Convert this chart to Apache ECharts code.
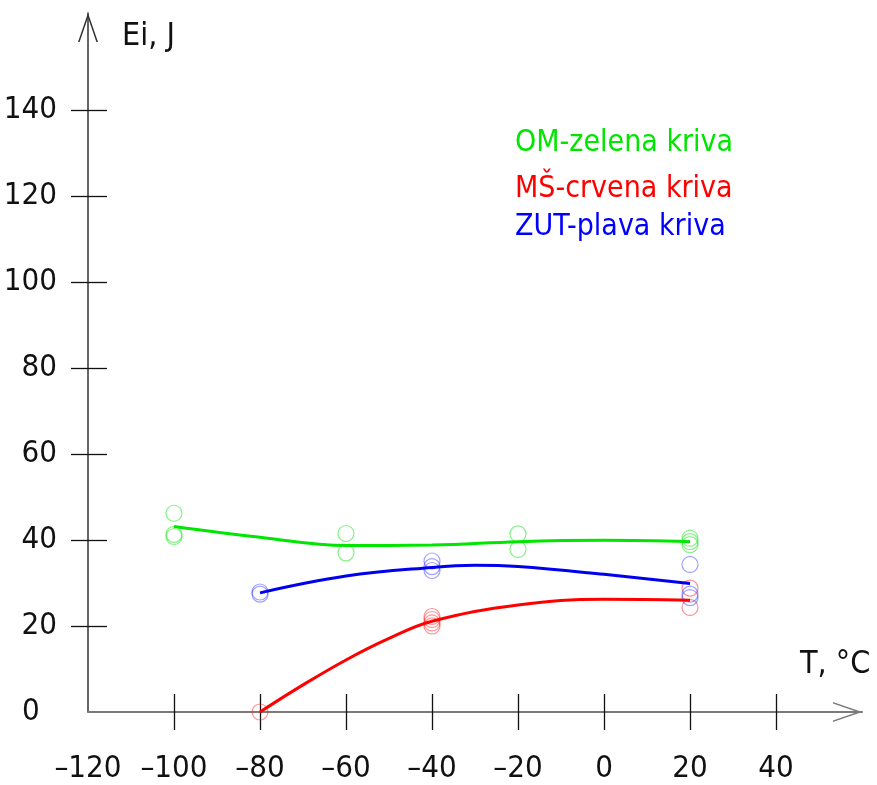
<!DOCTYPE html>
<html>
<head>
<meta charset="utf-8">
<script src="https://cdn.jsdelivr.net/npm/echarts@6/dist/echarts.min.js"></script>
<style>
html,body{margin:0;padding:0;background:#fff;}
#chart{width:877px;height:785px;}
</style>
</head>
<body>
<div id="chart"></div>
<script>
// ---- data ----
var seriesNames = ['OM-zelena kriva', 'MŠ-crvena kriva', 'ZUT-plava kriva'];
var xTickLabels = [-120, -100, -80, -60, -40, -20, 0, 20, 40];
var xTicks = [-100, -80, -60, -40, -20, 0, 20, 40];
var yTickLabels = [0, 20, 40, 60, 80, 100, 120, 140];
var yTicks = [20, 40, 60, 80, 100, 120, 140];

// measured points (hollow circles)
var omPoints = [[-100, 46.2], [-100, 41.3], [-100, 40.8], [-60, 41.5], [-60, 37.0], [-20, 41.4], [-20, 37.8], [20, 40.4], [20, 39.6], [20, 38.9]];
var msPoints = [[-80, 0], [-40, 22.2], [-40, 21.5], [-40, 20.7], [-40, 20.0], [20, 28.8], [20, 24.3]];
var zutPoints = [[-80, 27.9], [-80, 27.4], [-40, 35.1], [-40, 33.8], [-40, 32.9], [20, 34.3], [20, 27.4], [20, 26.6]];

// fitted curves
var omCurve = [[-100, 43.1], [-80, 40.6], [-60, 38.7], [-40, 38.8], [-20, 39.6], [0, 39.9], [20, 39.6]];
var msCurve = [[-80, 0], [-70, 6.3], [-60, 12.1], [-50, 17.1], [-40, 21.1], [-20, 24.9], [0, 26.2], [20, 26.0]];
var zutCurve = [[-80, 27.7], [-60, 31.6], [-40, 33.6], [-30, 34.1], [-20, 33.8], [0, 32.0], [20, 29.9]];

// ---- styles ----
var numFont = "'DejaVu Sans Condensed', 'DejaVu Sans', sans-serif";
var txtFont = "'DejaVu Sans Condensed', 'DejaVu Sans', sans-serif";
var arrowPath = 'path://M10 0 L20 29 L18.4 29 L10 4.6 L1.6 29 L0 29 Z';

function fmtNum(v) {
  return String(v).replace('-', '\u2013');
}

var chart = echarts.init(document.getElementById('chart'), null, {renderer: 'canvas'});

function legendFor(name, color, top) {
  return {
    data: [name],
    left: 510, top: top, padding: 0,
    icon: 'none', itemWidth: 0, itemHeight: 0,
    selectedMode: false,
    textStyle: {color: color, fontSize: 30, fontFamily: txtFont, lineHeight: 30}
  };
}

var option = {
  animation: false,
  backgroundColor: '#ffffff',
  grid: {left: 88, right: 15, top: 13, bottom: 73, containLabel: false, outerBoundsMode: 'none'},
  legend: [
    legendFor(seriesNames[0], '#00e600', 128),
    legendFor(seriesNames[1], '#ff0000', 174),
    legendFor(seriesNames[2], '#0000ff', 212)
  ],
  xAxis: [
    {
      type: 'value', position: 'bottom', min: -120, max: 60,
      name: 'T, °C', nameLocation: 'end', nameGap: -62,
      nameTextStyle: {color: '#111', fontSize: 32, fontFamily: numFont, align: 'left', verticalAlign: 'bottom', padding: [0, 0, 31, 0]},
      axisLine: {show: true, onZero: false, symbol: ['none', arrowPath], symbolSize: [20, 29], symbolOffset: [0, -14.5],
        lineStyle: {color: '#7a7a7a', width: 2}},
      axisTick: {show: true, length: 18, customValues: xTicks, lineStyle: {color: '#111', width: 1.3}},
      axisLabel: {show: true, customValues: xTickLabels, margin: 41, formatter: fmtNum,
        color: '#111', fontSize: 31, fontFamily: numFont},
      splitLine: {show: false}
    },
    {
      type: 'value', position: 'bottom', offset: 0, min: -120, max: 60,
      axisLine: {show: false, onZero: false},
      axisTick: {show: true, inside: true, length: 18, customValues: xTicks, lineStyle: {color: '#111', width: 1.3}},
      axisLabel: {show: false},
      splitLine: {show: false}
    }
  ],
  yAxis: [
    {
      type: 'value', position: 'left', min: 0, max: 162.5,
      name: 'Ei, J', nameLocation: 'end', nameGap: -24,
      nameTextStyle: {color: '#111', fontSize: 32, fontFamily: numFont, align: 'left', verticalAlign: 'middle', padding: [0, 0, 0, 34]},
      axisLine: {show: true, onZero: false, symbol: ['none', arrowPath], symbolSize: [20, 29], symbolOffset: [0, -14.5],
        lineStyle: {color: '#333', width: 1.5}},
      axisTick: {show: true, length: 17, customValues: yTicks, lineStyle: {color: '#111', width: 1.3}},
      axisLabel: {show: true, customValues: yTickLabels, margin: 31,
        formatter: function (v) { return v === 0 ? '{z|0}' : fmtNum(v); },
        rich: {z: {width: 35, align: 'left', fontSize: 31, fontFamily: numFont, color: '#111'}},
        color: '#111', fontSize: 31, fontFamily: numFont},
      splitLine: {show: false}
    },
    {
      type: 'value', position: 'left', offset: 0, min: 0, max: 162.5,
      axisLine: {show: false, onZero: false},
      axisTick: {show: true, inside: true, length: 19, customValues: yTicks, lineStyle: {color: '#111', width: 1.3}},
      axisLabel: {show: false},
      splitLine: {show: false}
    }
  ],
  series: [
    {name: seriesNames[0], type: 'scatter', data: omPoints, symbol: 'circle', symbolSize: 16,
      itemStyle: {color: 'rgba(0,0,0,0)', borderColor: 'rgba(40,230,40,0.7)', borderWidth: 1.2}},
    {name: seriesNames[1], type: 'scatter', data: msPoints, symbol: 'circle', symbolSize: 16,
      itemStyle: {color: 'rgba(0,0,0,0)', borderColor: 'rgba(255,30,30,0.6)', borderWidth: 1.2}},
    {name: seriesNames[2], type: 'scatter', data: zutPoints, symbol: 'circle', symbolSize: 16,
      itemStyle: {color: 'rgba(0,0,0,0)', borderColor: 'rgba(40,40,255,0.55)', borderWidth: 1.2}},
    {name: seriesNames[0], type: 'line', data: omCurve, smooth: 0.4, showSymbol: false,
      lineStyle: {color: '#00e600', width: 3}, itemStyle: {color: '#00e600'}},
    {name: seriesNames[1], type: 'line', data: msCurve, smooth: 0.4, showSymbol: false,
      lineStyle: {color: '#ff0000', width: 3}, itemStyle: {color: '#ff0000'}},
    {name: seriesNames[2], type: 'line', data: zutCurve, smooth: 0.4, showSymbol: false,
      lineStyle: {color: '#0000ee', width: 3}, itemStyle: {color: '#0000ee'}}
  ]
};
chart.setOption(option);
</script>
</body>
</html>
